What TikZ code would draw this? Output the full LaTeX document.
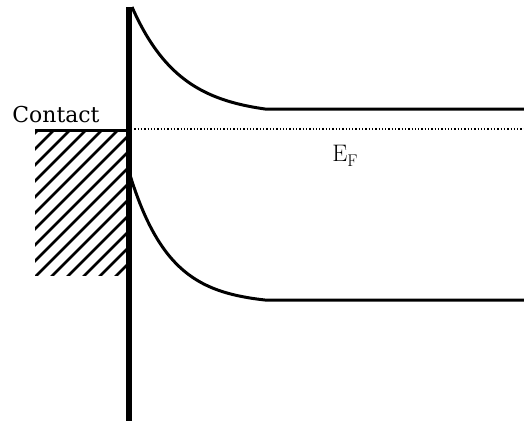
\documentclass[tikz,border=0pt]{standalone}
\usepackage{fontspec}
\newfontfamily\bandfont{DejaVu Serif}
\begin{document}
\begin{tikzpicture}[font=\bandfont\fontsize{22}{26}\selectfont,x=1bp,y=-1bp,
    band/.style={line width=3bp},
    hatchline/.style={line width=2.8bp}]
    \useasboundingbox (0,0) rectangle (524,425);

    \begin{scope}
        \clip (35,130) rectangle (127,275);
        \foreach \c in {-257,-241,...,-33}
            \draw[hatchline] ({\c+425-100},100) -- ({\c+425-350},350);
    \end{scope}
    \draw[band] (35,130) -- (128,130);
    \node[anchor=base] (contact) at (56,122) {Contact};

    \draw[line width=1.3bp,dash pattern=on 1.3bp off 2bp] (131,129) -- (524,129);
    \node[anchor=base] (fermi) at (345,161)
        {\normalfont\fontsize{24}{28}\selectfont
         E\raisebox{-0.22em}{\fontsize{17}{20}\selectfont F}};

    \draw[band] plot[domain=0:133,samples=70]
        ({132+\x},{109-102*(exp(-\x/48)-exp(-133/48))/(1-exp(-133/48))})
        -- (524,109);
    \draw[band] plot[domain=0:135,samples=70]
        ({130+\x},{300-125*(exp(-\x/40)-exp(-135/40))/(1-exp(-135/40))})
        -- (524,300);

    \draw[line width=6bp] (128.5,7) -- (128.5,421);
\end{tikzpicture}
\end{document}
